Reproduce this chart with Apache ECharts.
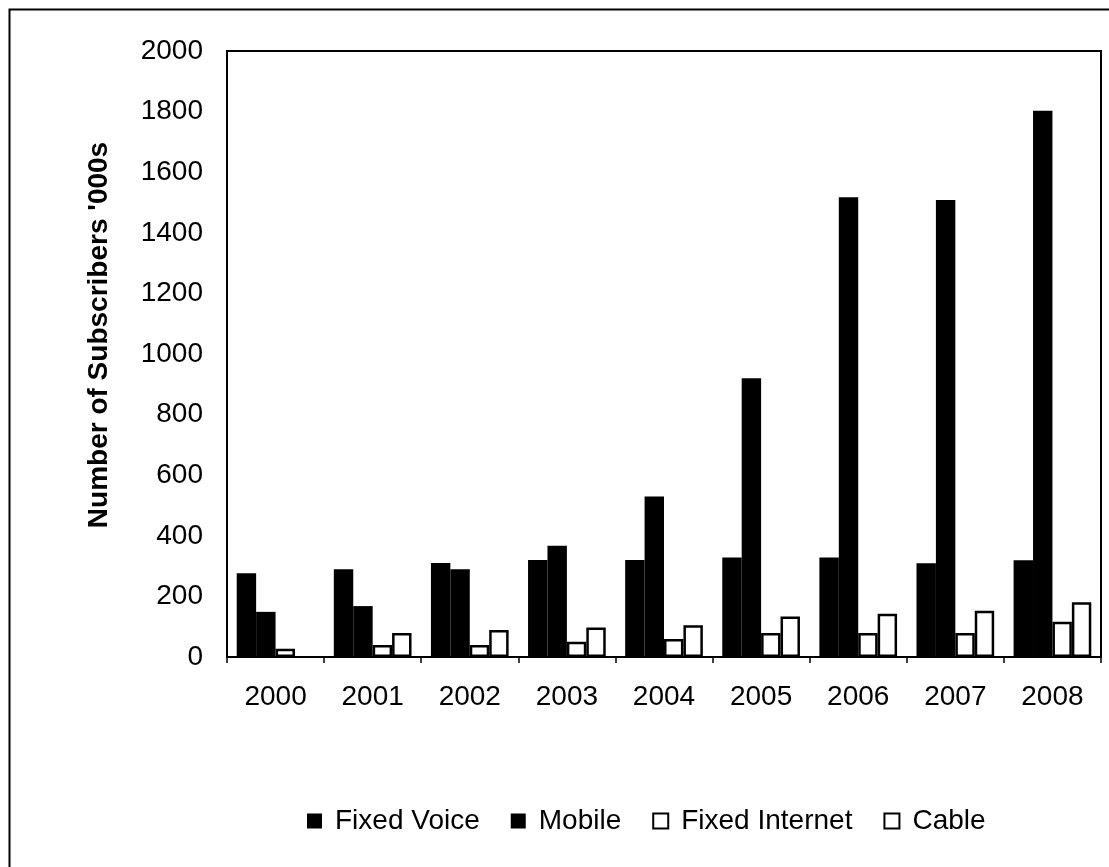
<!DOCTYPE html>
<html>
<head>
<meta charset="utf-8">
<script src="https://cdn.jsdelivr.net/npm/echarts@6/dist/echarts.min.js"></script>
<style>
html,body{margin:0;padding:0;background:#fff;}
#chart{width:1109px;height:867px;}
</style>
</head>
<body>
<div id="chart"></div>
<script>
const years = ['2000','2001','2002','2003','2004','2005','2006','2007','2008'];
const fixedVoice = [276, 290, 310, 320, 320, 328, 328, 309, 319];
const mobile = [149, 168, 290, 367, 530, 920, 1517, 1508, 1803];
const fixedInternet = [27, 40, 40, 50, 59, 79, 79, 79, 116];
const cable = [0, 79, 89, 97, 105, 134, 143, 153, 181];
const yTicks = [0, 200, 400, 600, 800, 1000, 1200, 1400, 1600, 1800, 2000];

const FONT = '"Liberation Sans", Arial, sans-serif';
const chart = echarts.init(document.getElementById('chart'), null, {renderer:'canvas'});

function blackSeries(name, data){
  return {name, type:'bar', data, barGap:'0%', barCategoryGap:'20%',
    itemStyle:{color:'#000', borderColor:'#000', borderWidth:0}, animation:false};
}
function whiteSeries(name, data){
  return {name, type:'bar',
    data: data.map(v => v === 0 ? {value:v, itemStyle:{borderWidth:0}} : v),
    barGap:'0%', barCategoryGap:'20%',
    itemStyle:{color:'#fff', borderColor:'#000', borderWidth:2.5}, animation:false};
}

chart.setOption({
  animation:false,
  backgroundColor:'#fff',
  textStyle:{fontFamily:FONT, color:'#000'},
  graphic:[{
    type:'rect', left:7, top:7, shape:{x:0,y:0,width:1300,height:1100},
    style:{fill:null, stroke:'#000', lineWidth:2}, silent:true, z:-1
  }],
  grid:{left:227, top:51, right:8, bottom:210, show:true, borderColor:'#000', borderWidth:2, backgroundColor:'transparent'},
  legend:{
    left:302, top:802, itemWidth:15, itemHeight:15, itemGap:31,
    icon:'rect',
    textStyle:{fontFamily:FONT, fontSize:28, color:'#000', padding:[0,0,0,8]},
    data:['Fixed Voice','Mobile','Fixed Internet','Cable']
  },
  xAxis:{
    type:'category', data:years,
    axisLine:{show:true, lineStyle:{color:'#000', width:2}},
    axisTick:{show:true, length:6, inside:false, lineStyle:{color:'#000', width:1.5}},
    axisLabel:{fontFamily:FONT, fontSize:28, color:'#000', margin:26},
    splitLine:{show:false}
  },
  yAxis:{
    type:'value', min:yTicks[0], max:yTicks[yTicks.length-1], interval:200,
    name:"Number of Subscribers '000s", nameLocation:'middle', nameGap:114, nameRotate:90,
    nameTextStyle:{fontFamily:FONT, fontSize:28, fontWeight:'bold', color:'#000', padding:[0,0,0,38]},
    axisLine:{show:true, lineStyle:{color:'#000', width:2}},
    axisTick:{show:false},
    axisLabel:{fontFamily:FONT, fontSize:28, color:'#000', margin:24, formatter:v => String(v)},
    splitLine:{show:false}
  },
  series:[
    blackSeries('Fixed Voice', fixedVoice),
    blackSeries('Mobile', mobile),
    whiteSeries('Fixed Internet', fixedInternet),
    whiteSeries('Cable', cable)
  ]
});
</script>
</body>
</html>
